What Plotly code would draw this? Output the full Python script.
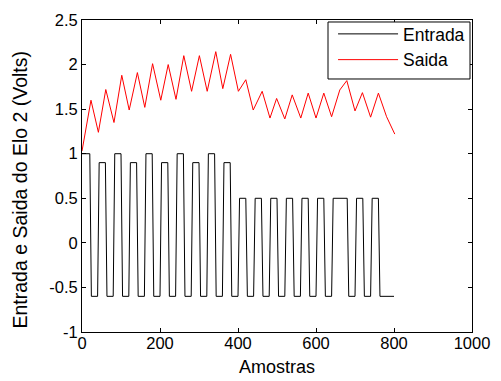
import numpy as np
import plotly.graph_objects as go

# Entrada (square-wave input): level of each segment and its length in samples
entrada_niveis = [1.0, -0.6, 0.9, -0.6, 1.0, -0.6, 0.9, -0.6, 1.0, -0.6,
                  0.9, -0.6, 1.0, -0.6, 0.9, -0.6, 1.0, -0.6, 0.9, -0.6,
                  0.5, -0.6, 0.5, -0.6, 0.5, -0.6, 0.5, -0.6, 0.5, -0.6,
                  0.5, -0.6, 0.5, -0.6, 0.5, -0.6, 0.5, -0.6]
entrada_duracao = [20, 20, 20, 20, 20, 20, 20, 20, 20, 20,
                   20, 20, 20, 20, 20, 20, 20, 20, 20, 20,
                   20, 20, 20, 20, 20, 20, 20, 20, 20, 20,
                   20, 20, 40, 20, 20, 20, 20, 40]
passo_amostra = 4

# Saida (output) at its peaks / troughs
saida_x = [0, 23, 42, 61, 82, 102, 121, 142, 161, 181, 202, 221, 241, 261,
           281, 301, 321, 343, 361, 381, 401, 420, 439, 462, 482, 499, 520,
           539, 561, 580, 600, 620, 640, 661, 679, 700, 719, 740, 760, 781, 802]
saida_y = [1.03, 1.60, 1.24, 1.72, 1.35, 1.88, 1.49, 1.91, 1.52, 2.01, 1.60,
           2.00, 1.61, 2.10, 1.70, 2.10, 1.70, 2.145, 1.73, 2.115, 1.70, 1.83,
           1.49, 1.70, 1.40, 1.62, 1.39, 1.66, 1.40, 1.68, 1.40, 1.68, 1.415,
           1.715, 1.82, 1.48, 1.685, 1.41, 1.68, 1.415, 1.22]

x_ticks = [0, 200, 400, 600, 800, 1000]
y_ticks = [-1, -0.5, 0, 0.5, 1, 1.5, 2, 2.5]
y_tick_text = ["-1", "-0.5", "0", "0.5", "1", "1.5", "2", "2.5"]

# build the sampled step signal from the segment table
fins = np.cumsum(entrada_duracao)
ent_x = np.arange(0, fins[-1] + 1, passo_amostra)
idx = np.searchsorted(fins, ent_x, side="left")
idx = np.clip(idx, 0, len(entrada_niveis) - 1)
ent_y = np.array(entrada_niveis)[idx]

FONT = "Liberation Sans, Arial, Helvetica, sans-serif"

fig = go.Figure()
fig.add_trace(go.Scatter(x=ent_x, y=ent_y, mode="lines", name="Entrada",
                         line=dict(color="black", width=1)))
fig.add_trace(go.Scatter(x=saida_x, y=saida_y, mode="lines", name="Saida",
                         line=dict(color="red", width=1)))

axis_common = dict(showgrid=False, zeroline=False, showline=True, mirror="ticks",
                   linecolor="black", linewidth=1, ticks="inside", ticklen=4,
                   tickcolor="black", automargin=False,
                   tickfont=dict(family=FONT, size=16.5, color="black"))

fig.update_xaxes(range=[0, 1000], tickvals=x_ticks, ticklabelstandoff=-4,
                 title=dict(text="Amostras", font=dict(family=FONT, size=18, color="black"),
                            standoff=9),
                 **axis_common)
fig.update_yaxes(range=[-1, 2.5], tickvals=y_ticks, ticktext=y_tick_text,
                 **axis_common)

# y-axis title placed as a rotated annotation
fig.add_annotation(text="Entrada e Saida do Elo 2 (Volts)", xref="paper", yref="paper",
                   x=-0.158, y=0.458, xanchor="center", yanchor="middle",
                   textangle=-90, showarrow=False,
                   font=dict(family=FONT, size=19.5, color="black"))

# legend frame
fig.add_shape(type="rect", xref="paper", yref="paper",
              x0=0.6308, x1=0.9949, y0=0.8109, y1=0.9936,
              line=dict(color="black", width=1), fillcolor="white", layer="above")

fig.update_layout(
    width=501, height=381,
    margin=dict(l=82, r=29, t=20, b=49),
    paper_bgcolor="white", plot_bgcolor="white",
    font=dict(family=FONT, size=16, color="black"),
    showlegend=True,
    legend=dict(x=0.995, y=1.0128, xanchor="right", yanchor="top",
                borderwidth=0, bgcolor="rgba(0,0,0,0)",
                itemwidth=60, tracegroupgap=0,
                font=dict(family=FONT, size=17.5, color="black")),
)

fig.write_html("out.html", config={"displayModeBar": False},
               post_script="document.body.style.margin='0';document.body.style.padding='0';")
